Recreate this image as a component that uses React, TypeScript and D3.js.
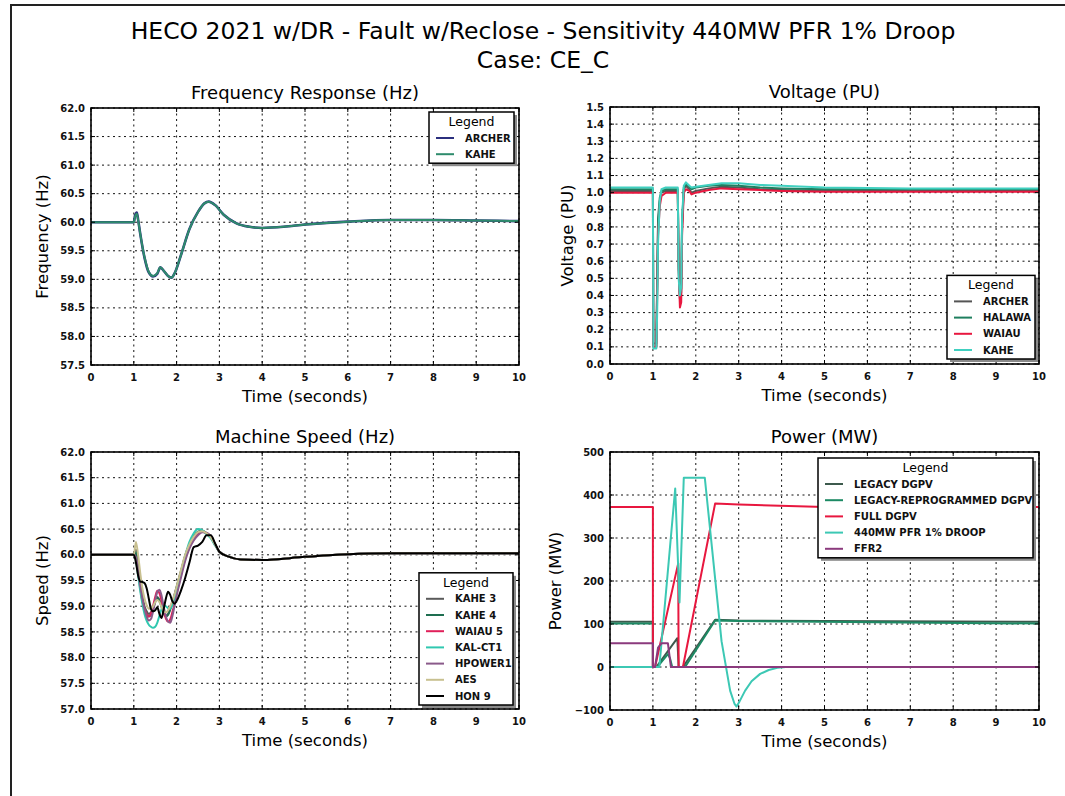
import React from "react";
import * as d3 from "d3";

// HECO 2021 w/DR - fault with reclose, 4 panel dynamic response plot

const FONT = "DejaVu Sans, Verdana, sans-serif";

const timeTicks = [0, 1, 2, 3, 4, 5, 6, 7, 8, 9, 10];

// ---- Frequency Response (Hz)
const freqTime = [0, 1.0, 1.03, 1.07, 1.1, 1.15, 1.25, 1.35, 1.45, 1.55, 1.62, 1.7, 1.8, 1.88, 1.95, 2.1, 2.3, 2.5, 2.65, 2.75, 2.9, 3.1, 3.4, 3.7, 4.0, 4.5, 5.0, 6.0, 7.0, 8.0, 9.0, 10];
const freqArcher = [60.0, 60.0, 60.12, 60.17, 60.05, 59.8, 59.38, 59.12, 59.05, 59.1, 59.21, 59.15, 59.06, 59.03, 59.1, 59.42, 59.88, 60.18, 60.33, 60.36, 60.3, 60.13, 59.98, 59.92, 59.9, 59.92, 59.96, 60.01, 60.04, 60.04, 60.03, 60.02];
const freqKahe = [60.0, 60.0, 60.1, 60.15, 60.04, 59.8, 59.39, 59.13, 59.06, 59.11, 59.21, 59.15, 59.06, 59.03, 59.1, 59.42, 59.88, 60.18, 60.33, 60.36, 60.3, 60.13, 59.98, 59.92, 59.9, 59.92, 59.96, 60.01, 60.04, 60.04, 60.03, 60.02];
const freqTicks = [57.5, 58.0, 58.5, 59.0, 59.5, 60.0, 60.5, 61.0, 61.5, 62.0];

// ---- Voltage (PU)
const voltTime = [0, 1.0, 1.01, 1.08, 1.1, 1.12, 1.16, 1.2, 1.3, 1.58, 1.6, 1.63, 1.66, 1.68, 1.72, 1.77, 1.85, 1.9, 2.0, 2.3, 2.6, 3.0, 3.5, 4.0, 5.0, 7.0, 10];
const voltArcher = [1.01, 1.01, 0.12, 0.12, 0.5, 0.8, 0.95, 1.0, 1.01, 1.01, 0.6, 0.38, 0.42, 0.8, 1.02, 1.04, 1.02, 1.0, 1.01, 1.025, 1.035, 1.03, 1.02, 1.015, 1.01, 1.01, 1.01];
const voltHalawa = [1.02, 1.02, 0.1, 0.1, 0.45, 0.85, 0.97, 1.01, 1.02, 1.02, 0.55, 0.4, 0.44, 0.82, 1.03, 1.05, 1.035, 1.02, 1.03, 1.04, 1.045, 1.04, 1.03, 1.025, 1.02, 1.02, 1.02];
const voltWaiau = [1.0, 1.0, 0.1, 0.1, 0.4, 0.75, 0.92, 0.98, 1.0, 1.0, 0.55, 0.33, 0.36, 0.75, 1.0, 1.02, 1.01, 0.99, 1.0, 1.015, 1.025, 1.02, 1.015, 1.01, 1.005, 1.005, 1.005];
const voltKahe = [1.03, 1.03, 0.09, 0.09, 0.3, 0.7, 0.95, 1.02, 1.03, 1.03, 0.5, 0.4, 0.45, 0.85, 1.04, 1.06, 1.04, 1.03, 1.035, 1.045, 1.055, 1.055, 1.045, 1.04, 1.03, 1.025, 1.025];
const voltTicks = [0, 0.1, 0.2, 0.3, 0.4, 0.5, 0.6, 0.7, 0.8, 0.9, 1.0, 1.1, 1.2, 1.3, 1.4, 1.5];

// ---- Machine Speed (Hz)
const speedTime = [0, 1.0, 1.05, 1.1, 1.15, 1.2, 1.25, 1.3, 1.35, 1.4, 1.45, 1.5, 1.55, 1.6, 1.65, 1.7, 1.75, 1.8, 1.85, 1.9, 1.95, 2.0, 2.1, 2.2, 2.3, 2.4, 2.5, 2.6, 2.7, 2.8, 2.9, 3.0, 3.2, 3.5, 4.0, 5.0, 6.0, 7.0, 10];
const speedKahe3 = [60, 60, 60.1, 59.85, 59.5, 59.2, 59.0, 58.9, 58.85, 58.88, 58.98, 59.1, 59.18, 59.12, 59.0, 58.88, 58.82, 58.85, 58.95, 59.08, 59.22, 59.38, 59.68, 59.98, 60.2, 60.36, 60.44, 60.46, 60.42, 60.34, 60.2, 60.06, 59.97, 59.91, 59.9, 59.96, 60.01, 60.03, 60.03];
const speedKahe4 = [60, 60, 60.05, 59.8, 59.45, 59.15, 58.95, 58.85, 58.8, 58.83, 58.95, 59.08, 59.16, 59.1, 58.98, 58.86, 58.8, 58.83, 58.93, 59.06, 59.2, 59.36, 59.66, 59.96, 60.2, 60.36, 60.45, 60.47, 60.42, 60.34, 60.2, 60.06, 59.97, 59.91, 59.9, 59.96, 60.01, 60.03, 60.03];
const speedWaiau5 = [60, 60, 59.92, 59.65, 59.35, 59.1, 58.95, 58.85, 58.8, 58.85, 59.0, 59.18, 59.3, 59.25, 59.1, 58.9, 58.76, 58.7, 58.74, 58.88, 59.05, 59.25, 59.6, 59.92, 60.15, 60.3, 60.4, 60.45, 60.42, 60.35, 60.2, 60.06, 59.97, 59.91, 59.9, 59.96, 60.01, 60.03, 60.03];
const speedKalCt1 = [60, 60, 59.9, 59.6, 59.3, 59.05, 58.85, 58.72, 58.64, 58.6, 58.58, 58.6, 58.68, 58.82, 58.95, 59.02, 59.0, 58.96, 58.95, 59.02, 59.15, 59.3, 59.65, 59.98, 60.25, 60.42, 60.5, 60.48, 60.4, 60.32, 60.18, 60.06, 59.97, 59.91, 59.9, 59.96, 60.01, 60.03, 60.03];
const speedHpower1 = [60, 60, 59.95, 59.7, 59.4, 59.15, 58.95, 58.8, 58.72, 58.75, 58.9, 59.1, 59.28, 59.32, 59.2, 58.98, 58.8, 58.7, 58.68, 58.8, 59.0, 59.2, 59.55, 59.88, 60.12, 60.28, 60.38, 60.44, 60.43, 60.36, 60.2, 60.06, 59.97, 59.91, 59.9, 59.96, 60.01, 60.03, 60.03];
const speedAes = [60, 60, 60.25, 60.0, 59.65, 59.35, 59.15, 59.02, 58.95, 58.95, 59.0, 59.08, 59.12, 59.08, 58.98, 58.9, 58.88, 58.92, 59.0, 59.1, 59.22, 59.38, 59.7, 60.0, 60.2, 60.35, 60.44, 60.46, 60.42, 60.34, 60.2, 60.06, 59.97, 59.91, 59.9, 59.96, 60.01, 60.03, 60.03];
const speedHon9 = [60, 60, 59.85, 59.6, 59.48, 59.47, 59.45, 59.35, 59.15, 58.95, 58.9, 58.92, 58.98, 58.85, 58.77, 58.95, 59.15, 59.28, 59.22, 59.1, 59.05, 59.1, 59.3, 59.55, 59.85, 60.15, 60.18, 60.25, 60.38, 60.38, 60.22, 60.06, 59.97, 59.91, 59.9, 59.96, 60.01, 60.03, 60.03];
const speedTicks = [57.0, 57.5, 58.0, 58.5, 59.0, 59.5, 60.0, 60.5, 61.0, 61.5, 62.0];

// ---- Power (MW)
const legacyTime = [0, 1.0, 1.0, 1.08, 1.57, 1.6, 1.7, 2.45, 3.0, 10];
const legacyVals = [105, 105, 0, 0, 67, 0, 0, 110, 108, 105];
const reprogTime = [0, 1.0, 1.0, 1.1, 1.35, 1.4, 1.45, 1.75, 2.45, 3.0, 10];
const reprogVals = [101, 101, 0, 0, 30, 20, 0, 0, 108, 107, 101];
const fullTime = [0, 1.0, 1.0, 1.05, 1.59, 1.6, 1.7, 2.45, 3.0, 5.0, 10];
const fullVals = [372, 372, 0, 0, 241, 0, 0, 380, 378, 372, 372];
const pfrTime = [0, 1.15, 1.52, 1.62, 1.72, 2.21, 2.6, 2.8, 2.9, 2.95, 3.02, 3.15, 3.3, 3.5, 3.7, 3.9, 4.1, 10];
const pfrVals = [0, 0, 415, 150, 440, 440, 60, -55, -85, -92, -80, -55, -33, -16, -7, -2, 0, 0];
const ffrTime = [0, 1.0, 1.0, 1.05, 1.12, 1.2, 1.35, 1.42, 10];
const ffrVals = [55, 55, 0, 0, 45, 55, 55, 0, 0];
const powerTicks = [-100, 0, 100, 200, 300, 400, 500];

type Series = { name: string; color: string; t: number[]; v: number[]; width?: number };
type LegendCfg = { width: number; corner: "tr" | "br"; gapX: number; gapY: number };

type PanelProps = {
  x0: number;
  y0: number;
  w: number;
  h: number;
  id: string;
  yDomain: [number, number];
  yTicks: number[];
  yFmt: (n: number) => string;
  title: string;
  ylabel: string;
  ylabelDx: number;
  series: Series[];
  legend: LegendCfg;
  smooth?: boolean;
};

function Panel(props: PanelProps) {
  const { x0, y0, w, h, id, yDomain, yTicks, yFmt, title, ylabel, ylabelDx, series, legend, smooth } = props;
  const x = d3.scaleLinear().domain([0, 10]).range([x0, x0 + w]);
  const y = d3.scaleLinear().domain(yDomain).range([y0 + h, y0]);
  const line = d3
    .line<[number, number]>()
    .x((d) => x(d[0]))
    .y((d) => y(d[1]))
    .curve(smooth ? d3.curveMonotoneX : d3.curveLinear);

  const tickLen = 4;
  const lh = 16.2;
  const legH = 35 + (series.length - 1) * lh;
  const lx = x0 + w - legend.gapX - legend.width;
  const ly = legend.corner === "tr" ? y0 + legend.gapY : y0 + h - legend.gapY - legH;

  return (
    <g>
      <defs>
        <clipPath id={"clip-" + id}>
          <rect x={x0} y={y0} width={w} height={h} />
        </clipPath>
      </defs>
      <rect x={x0} y={y0} width={w} height={h} fill="#fff" />
      {/* grid */}
      <g stroke="#111" strokeWidth={1} strokeDasharray="2,3.5">
        {timeTicks.map((t) => (
          <line key={"gx" + t} x1={x(t)} x2={x(t)} y1={y0} y2={y0 + h} />
        ))}
        {yTicks.map((v) => (
          <line key={"gy" + v} x1={x0} x2={x0 + w} y1={y(v)} y2={y(v)} />
        ))}
      </g>
      {/* data */}
      <g clipPath={"url(#clip-" + id + ")"} fill="none" strokeLinejoin="round">
        {series.map((s) => (
          <path
            key={s.name}
            d={line(d3.zip(s.t, s.v) as [number, number][]) || ""}
            stroke={s.color}
            strokeWidth={s.width || 2}
          />
        ))}
      </g>
      {/* ticks inside, all four sides */}
      <g stroke="#000" strokeWidth={1}>
        {timeTicks.map((t) => (
          <g key={"tx" + t}>
            <line x1={x(t)} x2={x(t)} y1={y0 + h} y2={y0 + h - tickLen} />
            <line x1={x(t)} x2={x(t)} y1={y0} y2={y0 + tickLen} />
          </g>
        ))}
        {yTicks.map((v) => (
          <g key={"ty" + v}>
            <line x1={x0} x2={x0 + tickLen} y1={y(v)} y2={y(v)} />
            <line x1={x0 + w} x2={x0 + w - tickLen} y1={y(v)} y2={y(v)} />
          </g>
        ))}
      </g>
      <rect x={x0} y={y0} width={w} height={h} fill="none" stroke="#000" strokeWidth={1.6} />
      {/* tick labels */}
      <g fontFamily={FONT} fontSize={10} fontWeight="bold" fill="#111">
        {timeTicks.map((t) => (
          <text key={"lx" + t} x={x(t)} y={y0 + h + 15.5} textAnchor="middle">
            {t}
          </text>
        ))}
        {yTicks.map((v) => (
          <text key={"ly" + v} x={x0 - 6} y={y(v) + 3.6} textAnchor="end">
            {yFmt(v)}
          </text>
        ))}
      </g>
      <text x={x0 + w / 2} y={y0 - 9} textAnchor="middle" fontFamily={FONT} fontSize={18} fill="#000">
        {title}
      </text>
      <text x={x0 + w / 2} y={y0 + h + 37} textAnchor="middle" fontFamily={FONT} fontSize={16.5} fill="#000">
        Time (seconds)
      </text>
      <text
        transform={`translate(${x0 + ylabelDx},${y0 + h / 2}) rotate(-90)`}
        textAnchor="middle"
        fontFamily={FONT}
        fontSize={16.5}
        fill="#000"
      >
        {ylabel}
      </text>
      {/* legend */}
      <rect x={lx + 3} y={ly + 3} width={legend.width} height={legH} fill="#8a8a8a" />
      <rect x={lx} y={ly} width={legend.width} height={legH} fill="#fff" stroke="#000" strokeWidth={1.5} />
      <text x={lx + legend.width / 2} y={ly + 14} textAnchor="middle" fontFamily={FONT} fontSize={12.5} fill="#000">
        Legend
      </text>
      {series.map((s, i) => (
        <g key={"leg" + s.name}>
          <line x1={lx + 7} x2={lx + 25} y1={ly + 26 + i * lh} y2={ly + 26 + i * lh} stroke={s.color} strokeWidth={2} />
          <text x={lx + 36} y={ly + 29.5 + i * lh} fontFamily={FONT} fontSize={10} fontWeight="bold" fill="#111">
            {s.name}
          </text>
        </g>
      ))}
    </g>
  );
}

const f1 = d3.format(".1f");
const f0 = d3.format("d");

export default function App() {
  return (
    <svg width={1065} height={796} style={{ position: "absolute", left: 0, top: 0, background: "#fff" }}>
      <rect x={0} y={0} width={1065} height={796} fill="#fff" />
      <path d="M11,796 L11,5 L1065,5" fill="none" stroke="#222" strokeWidth={2} />
      <text x={543} y={39} textAnchor="middle" fontFamily={FONT} fontSize={23.5} fill="#000">
        HECO 2021 w/DR - Fault w/Reclose - Sensitivity 440MW PFR 1% Droop
      </text>
      <text x={543} y={68} textAnchor="middle" fontFamily={FONT} fontSize={23.5} fill="#000">
        Case: CE_C
      </text>

      <Panel
        id="freq"
        x0={91}
        y0={108}
        w={428}
        h={257}
        yDomain={[57.5, 62]}
        yTicks={freqTicks}
        yFmt={f1}
        title="Frequency Response (Hz)"
        ylabel="Frequency (Hz)"
        ylabelDx={-43}
        smooth
        legend={{ width: 85, corner: "tr", gapX: 5, gapY: 4 }}
        series={[
          { name: "ARCHER", color: "#2b2f7e", t: freqTime, v: freqArcher, width: 2.6 },
          { name: "KAHE", color: "#2e8b6c", t: freqTime, v: freqKahe, width: 2 },
        ]}
      />

      <Panel
        id="volt"
        x0={610}
        y0={107}
        w={429}
        h={257}
        yDomain={[0, 1.5]}
        yTicks={voltTicks}
        yFmt={f1}
        title="Voltage (PU)"
        ylabel="Voltage (PU)"
        ylabelDx={-37}
        legend={{ width: 88, corner: "br", gapX: 4, gapY: 5 }}
        series={[
          { name: "ARCHER", color: "#555555", t: voltTime, v: voltArcher },
          { name: "HALAWA", color: "#1f7f5f", t: voltTime, v: voltHalawa },
          { name: "WAIAU", color: "#e8173f", t: voltTime, v: voltWaiau },
          { name: "KAHE", color: "#40d0c0", t: voltTime, v: voltKahe },
        ]}
      />

      <Panel
        id="speed"
        x0={91}
        y0={452}
        w={428}
        h={257}
        yDomain={[57, 62]}
        yTicks={speedTicks}
        yFmt={f1}
        title="Machine Speed (Hz)"
        ylabel="Speed (Hz)"
        ylabelDx={-43}
        smooth
        legend={{ width: 94, corner: "br", gapX: 6, gapY: 4 }}
        series={[
          { name: "KAHE 3", color: "#5a5a5a", t: speedTime, v: speedKahe3 },
          { name: "KAHE 4", color: "#1e6e50", t: speedTime, v: speedKahe4 },
          { name: "WAIAU 5", color: "#e0205a", t: speedTime, v: speedWaiau5 },
          { name: "KAL-CT1", color: "#30c8b0", t: speedTime, v: speedKalCt1 },
          { name: "HPOWER1", color: "#8a5a8a", t: speedTime, v: speedHpower1 },
          { name: "AES", color: "#c8c090", t: speedTime, v: speedAes },
          { name: "HON 9", color: "#000000", t: speedTime, v: speedHon9 },
        ]}
      />

      <Panel
        id="power"
        x0={610}
        y0={452}
        w={429}
        h={258}
        yDomain={[-100, 500]}
        yTicks={powerTicks}
        yFmt={f0}
        title="Power (MW)"
        ylabel="Power (MW)"
        ylabelDx={-49}
        legend={{ width: 215, corner: "tr", gapX: 6, gapY: 6 }}
        series={[
          { name: "LEGACY DGPV", color: "#3d5a4d", t: legacyTime, v: legacyVals },
          { name: "LEGACY-REPROGRAMMED DGPV", color: "#1c8a64", t: reprogTime, v: reprogVals },
          { name: "FULL DGPV", color: "#e8173f", t: fullTime, v: fullVals },
          { name: "440MW PFR 1% DROOP", color: "#3cc8b4", t: pfrTime, v: pfrVals },
          { name: "FFR2", color: "#8b3a7d", t: ffrTime, v: ffrVals },
        ]}
      />
    </svg>
  );
}
